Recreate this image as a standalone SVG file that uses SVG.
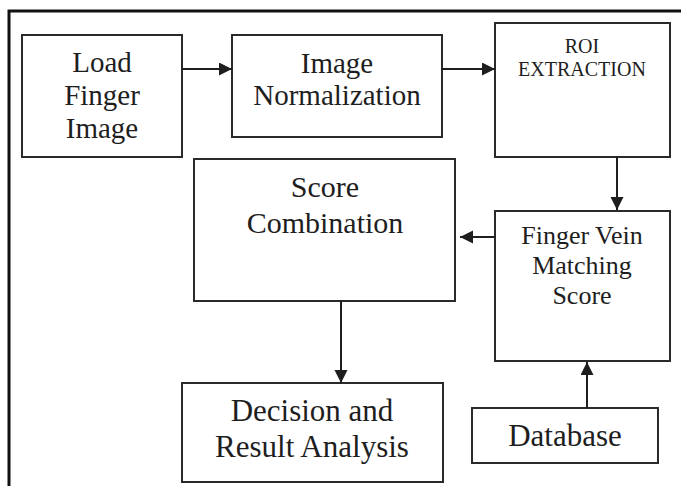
<svg xmlns="http://www.w3.org/2000/svg" width="681" height="486" viewBox="0 0 681 486">
<defs>
<style>
.box{fill:#fff;stroke:#2a2a2a;stroke-width:2}
.t{font-family:'Liberation Serif','Times New Roman',Tinos,'Nimbus Roman','DejaVu Serif',serif;fill:#1e1e1e;text-anchor:middle}
.conn{stroke:#1e1e1e;stroke-width:2;fill:none}
</style>
<marker id="ah" markerUnits="userSpaceOnUse" markerWidth="14" markerHeight="14" refX="13" refY="6.5" orient="auto">
<path d="M0,0 L13,6.5 L0,13 z" fill="#1e1e1e"/>
</marker>
</defs>
<rect width="681" height="486" fill="#fff"/>
<path d="M9,486 V11 H681" fill="none" stroke="#111" stroke-width="3"/>
<g id="load"><rect class="box" x="22" y="35" width="160" height="122"/>
<text class="t" font-size="29"><tspan x="102" y="72">Load</tspan><tspan x="102" y="105">Finger</tspan><tspan x="102" y="138">Image</tspan></text></g>
<g id="norm"><rect class="box" x="232" y="35" width="210" height="102"/>
<text class="t" font-size="29"><tspan x="337" y="73">Image</tspan><tspan x="337" y="105">Normalization</tspan></text></g>
<g id="roi"><rect class="box" x="495" y="23" width="175" height="134"/>
<text class="t" font-size="20"><tspan x="582" y="53">ROI</tspan><tspan x="582" y="76">EXTRACTION</tspan></text></g>
<g id="score"><rect class="box" x="194" y="159" width="261" height="142"/>
<text class="t" font-size="30"><tspan x="325" y="197">Score</tspan><tspan x="325" y="233">Combination</tspan></text></g>
<g id="fvms"><rect class="box" x="495" y="211" width="175" height="150"/>
<text class="t" font-size="26"><tspan x="582" y="244">Finger Vein</tspan><tspan x="582" y="274">Matching</tspan><tspan x="582" y="304">Score</tspan></text></g>
<g id="decision"><rect class="box" x="182" y="383" width="261" height="99"/>
<text class="t" font-size="31"><tspan x="312" y="421">Decision and</tspan><tspan x="312" y="457">Result Analysis</tspan></text></g>
<g id="database"><rect class="box" x="472" y="408" width="186" height="55"/>
<text class="t" font-size="31" x="565" y="446">Database</text></g>
<g id="connectors">
<line class="conn" x1="182" y1="69" x2="232" y2="69" marker-end="url(#ah)"/>
<line class="conn" x1="442" y1="69" x2="495" y2="69" marker-end="url(#ah)"/>
<line class="conn" x1="617" y1="157" x2="617" y2="210" marker-end="url(#ah)"/>
<line class="conn" x1="495" y1="237" x2="460" y2="237" marker-end="url(#ah)"/>
<line class="conn" x1="341" y1="301" x2="341" y2="383" marker-end="url(#ah)"/>
<line class="conn" x1="587" y1="408" x2="587" y2="362" marker-end="url(#ah)"/>
</g>
</svg>
